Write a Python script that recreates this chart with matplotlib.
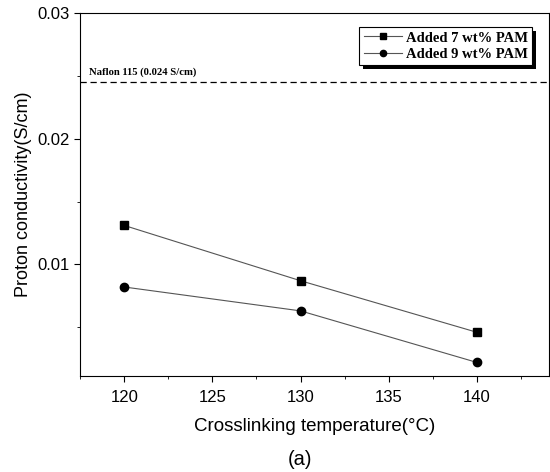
import numpy as np
import matplotlib
matplotlib.use('Agg')
from matplotlib import pyplot as plt
from matplotlib.ticker import MultipleLocator, FixedLocator
from matplotlib.patches import Rectangle

# data
temps = [120, 130, 140]
pam7 = [0.0131, 0.0087, 0.0046]
pam9 = [0.0082, 0.0063, 0.0022]
nafion = 0.0245
yticks = [0.01, 0.02, 0.03]
ytick_labels = ['0.01', '0.02', '0.03']

plt.rcParams['font.family'] = ['Liberation Sans', 'DejaVu Sans']

fig = plt.figure(figsize=(5.5, 4.72), dpi=100)
ax = fig.add_axes([0.146, 0.203, 0.852, 0.769])

ax.plot(temps, pam7, color='#555555', lw=0.8, marker='s', ms=5.5,
        mfc='black', mec='black', label='Added 7 wt% PAM')
ax.plot(temps, pam9, color='#555555', lw=0.8, marker='o', ms=6,
        mfc='black', mec='black', label='Added 9 wt% PAM')
ax.axhline(nafion, color='black', lw=0.9, ls=(0, (5, 3)))
ax.text(118.0, nafion + 0.0006, 'Naflon 115 (0.024 S/cm)', family='Liberation Serif',
        fontweight='bold', fontsize=7.7)

ax.set_xlim(117.5, 144.1)
ax.set_ylim(0.0011, 0.03)
ax.xaxis.set_major_locator(MultipleLocator(5))
ax.xaxis.set_minor_locator(MultipleLocator(2.5))
ax.yaxis.set_major_locator(FixedLocator(yticks))
ax.set_yticklabels(ytick_labels)
ax.yaxis.set_minor_locator(FixedLocator([0.005, 0.015, 0.025]))
ax.tick_params(which='major', direction='out', length=4, labelsize=12)
ax.tick_params(axis='x', which='major', pad=6)
ax.tick_params(which='minor', direction='out', length=2.5)

ax.set_xlabel('Crosslinking temperature(\u00b0C)', fontsize=13.5, labelpad=9)
ax.set_ylabel('Proton conductivity(S/cm)', fontsize=13, labelpad=4)
fig.text(0.546, 0.015, '(a)', fontsize=14.5, ha='center')

leg = ax.legend(loc='upper right', bbox_to_anchor=(0.965, 0.962), fancybox=False,
                edgecolor='black', framealpha=1,
                prop={'family': 'Liberation Serif', 'weight': 'bold', 'size': 10.5},
                handlelength=2.6, handletextpad=0.3, borderpad=0.3,
                labelspacing=0.2, markerscale=0.75, borderaxespad=0)
leg.get_frame().set_linewidth(0.8)

# thick offset shadow behind the legend box
fig.canvas.draw()
bb = leg.get_window_extent()
ax.add_patch(Rectangle((bb.x0 + 4, bb.y0 - 4), bb.width, bb.height,
                       transform=None, facecolor='black', edgecolor='none',
                       zorder=4.9, clip_on=False))

fig.savefig('out.png')
